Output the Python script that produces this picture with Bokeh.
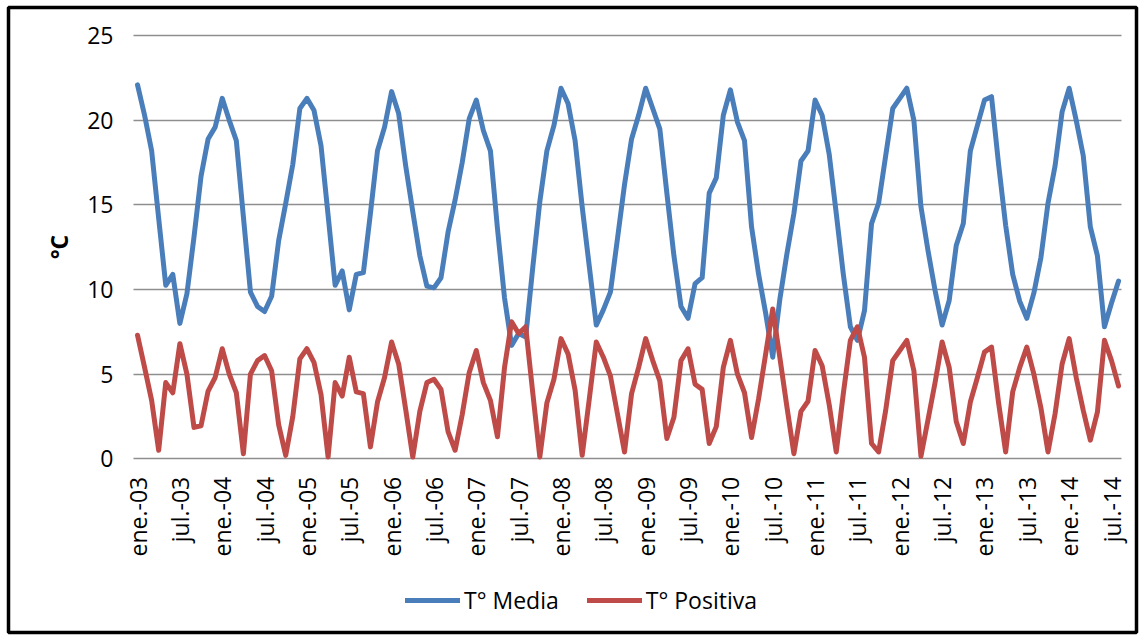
import math

from bokeh.embed import file_html
from bokeh.models import FixedTicker, Legend, LegendItem, Range1d
from bokeh.plotting import figure
from bokeh.resources import INLINE

# Monthly temperatures, ene-03 .. ago-14
t_media = [
    22.1, 20.3, 18.2, 14.2, 10.25, 10.9, 8.0, 9.75, 13.1, 16.7, 18.9, 19.6,
    21.3, 20.0, 18.8, 14.3, 9.85, 9.0, 8.7, 9.6, 12.9, 15.1, 17.4, 20.7,
    21.3, 20.6, 18.5, 14.4, 10.25, 11.1, 8.8, 10.9, 11.0, 14.5, 18.2, 19.6,
    21.7, 20.4, 17.3, 14.6, 12.0, 10.2, 10.1, 10.7, 13.4, 15.3, 17.5, 20.1,
    21.2, 19.4, 18.2, 13.6, 9.5, 6.7, 7.4, 7.2, 11.3, 15.2, 18.2, 19.7,
    21.9, 21.0, 18.8, 14.9, 11.4, 7.9, 8.8, 9.85, 13.0, 16.2, 18.9, 20.3,
    21.9, 20.7, 19.5, 15.7, 12.0, 9.0, 8.3, 10.35, 10.7, 15.7, 16.6, 20.3,
    21.8, 19.9, 18.8, 13.7, 10.9, 8.6, 6.0, 9.4, 12.1, 14.5, 17.6, 18.2,
    21.2, 20.3, 18.0, 14.5, 10.9, 7.8, 7.0, 8.75, 13.9, 15.1, 17.9, 20.7,
    21.3, 21.9, 20.0, 14.9, 12.3, 9.95, 7.9, 9.35, 12.6, 13.9, 18.2, 19.7,
    21.2, 21.4, 17.4, 13.8, 10.9, 9.3, 8.3, 9.8, 11.9, 15.1, 17.3, 20.5,
    21.9, 20.0, 17.9, 13.7, 12.0, 7.8, 9.2, 10.5,
]

t_positiva = [
    7.3, 5.4, 3.45, 0.5, 4.5, 3.9, 6.8, 5.0, 1.85, 1.95, 4.0, 4.8,
    6.5, 5.0, 3.9, 0.3, 5.0, 5.8, 6.1, 5.2, 2.0, 0.2, 2.5, 5.9,
    6.5, 5.7, 3.8, 0.1, 4.5, 3.7, 6.0, 3.95, 3.85, 0.7, 3.35, 4.8,
    6.9, 5.6, 2.9, 0.1, 2.8, 4.5, 4.7, 4.1, 1.6, 0.5, 2.6, 5.1,
    6.4, 4.5, 3.45, 1.3, 5.4, 8.1, 7.4, 7.8, 3.9, 0.1, 3.3, 4.7,
    7.1, 6.2, 4.05, 0.2, 3.5, 6.9, 6.0, 4.9, 2.65, 0.4, 3.85, 5.4,
    7.1, 5.8, 4.6, 1.2, 2.45, 5.8, 6.5, 4.4, 4.1, 0.9, 1.9, 5.4,
    7.0, 5.0, 3.9, 1.25, 3.55, 6.2, 8.85, 6.0, 3.1, 0.3, 2.8, 3.4,
    6.4, 5.5, 3.2, 0.4, 3.85, 7.0, 7.8, 6.0, 0.9, 0.4, 2.85, 5.8,
    6.4, 7.0, 5.2, 0.15, 2.3, 4.5, 6.9, 5.4, 2.2, 0.9, 3.35, 4.8,
    6.3, 6.6, 3.3, 0.4, 3.95, 5.4, 6.6, 5.0, 3.0, 0.4, 2.65, 5.6,
    7.1, 4.8, 2.85, 1.1, 2.75, 7.0, 5.8, 4.3,
]

# Half-yearly date labels (every 6 months from ene-03)
tick_labels = [
    "ene.-03", "jul.-03", "ene.-04", "jul.-04", "ene.-05", "jul.-05",
    "ene.-06", "jul.-06", "ene.-07", "jul.-07", "ene.-08", "jul.-08",
    "ene.-09", "jul.-09", "ene.-10", "jul.-10", "ene.-11", "jul.-11",
    "ene.-12", "jul.-12", "ene.-13", "jul.-13", "ene.-14", "jul.-14",
]
y_ticks = [0, 5, 10, 15, 20, 25]

months = list(range(len(t_media)))
tick_pos = [6 * i for i in range(len(tick_labels))]

FONT = "Open Sans"
BLUE = "#4A7EBB"
RED = "#BE4B48"

# The frame is the whole bordered chart box; the plot area sits inside it,
# with the axes pinned to its left edge and to the zero line.
X_LEFT = -0.57          # left edge of the plot area (months)
PLOT_W = 988            # plot area width, px
p = figure(
    width=1143, height=638,
    output_backend="svg", toolbar_location=None,
    x_range=Range1d(-18.28, 141.54), y_range=Range1d(-10.27, 26.67),
    min_border_left=8, min_border_right=7,
    min_border_top=7, min_border_bottom=6,
)
p.outline_line_color = "black"
p.outline_line_width = 3.5
p.background_fill_color = "white"
p.border_fill_color = "white"
p.xgrid.visible = False
p.ygrid.visible = False

r_media = p.line(months, t_media, line_color=BLUE, line_width=5,
                 line_join="round", line_cap="round")
r_pos = p.line(months, t_positiva, line_color=RED, line_width=5,
               line_join="round", line_cap="round")

# x axis on the zero line
xa = p.xaxis[0]
xa.fixed_location = 0
xa.ticker = FixedTicker(ticks=tick_pos)
xa.major_label_overrides = {t: lab for t, lab in zip(tick_pos, tick_labels)}
xa.major_label_orientation = math.pi / 2
xa.major_label_standoff = 12
xa.major_label_text_font = FONT
xa.major_label_text_font_size = "23px"
xa.major_label_text_color = "black"
xa.axis_line_color = None
xa.major_tick_line_color = None
xa.minor_tick_line_color = None

# y axis on the left edge of the plot area; its inward ticks form the
# horizontal gridlines across the plot area
ya = p.yaxis[0]
ya.fixed_location = X_LEFT
ya.bounds = (0, 25)
ya.level = "underlay"
ya.ticker = FixedTicker(ticks=y_ticks)
ya.major_tick_in = PLOT_W
ya.major_tick_out = 0
ya.major_tick_line_color = "#8E8E8E"
ya.major_tick_line_width = 1.5
ya.minor_tick_line_color = None
ya.axis_line_color = None
ya.major_label_standoff = 20
ya.major_label_text_font = FONT
ya.major_label_text_font_size = "23px"
ya.major_label_text_color = "black"
ya.axis_label = "°C"
ya.axis_label_text_font = FONT
ya.axis_label_text_font_size = "23px"
ya.axis_label_text_font_style = "bold"
ya.axis_label_text_color = "black"
ya.axis_label_standoff = 9

legend = Legend(
    items=[
        LegendItem(label="T° Media", renderers=[r_media]),
        LegendItem(label="T° Positiva", renderers=[r_pos]),
    ],
    orientation="horizontal",
    location=(397, 16),
    glyph_width=55, glyph_height=20,
    label_standoff=4, spacing=28,
    padding=0, margin=0,
    border_line_color=None, background_fill_alpha=0,
    label_text_font=FONT, label_text_font_size="23px",
    label_text_color="black",
)
p.add_layout(legend, "center")

open("out.html", "w").write(file_html(p, INLINE))
